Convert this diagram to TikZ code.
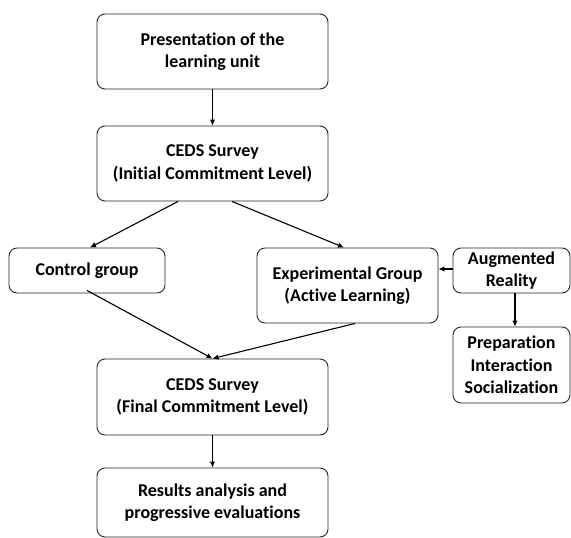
\documentclass[tikz,border=0pt]{standalone}
\usepackage{fontspec}
\setmainfont{Carlito}[Ligatures=NoCommon]
\usetikzlibrary{arrows.meta}

\tikzset{
	stage/.style={draw=black!85, line width=0.9pt, rounded corners=8pt, align=center, inner sep=0pt,
		font=\bfseries\fontsize{18}{22.5}\selectfont},
	flow/.style={line width=1.1pt, -{Latex[length=6pt,width=5.5pt]}}
}

\begin{document}
\begin{tikzpicture}[x=1pt,y=-1pt]
		%%%%% START %%%%%
		\useasboundingbox (0,0) rectangle (571,538);
		
		\node[stage, minimum width=231pt, minimum height=75pt] (pres) at (212.5, 51.5) {Presentation of the\\learning unit};
		\node[stage, minimum width=231pt, minimum height=75pt] (init) at (212.5, 163.5) {CEDS Survey\\(Initial Commitment Level)};
		
		\node[stage, minimum width=156pt, minimum height=45pt] (ctrl) at (87, 270.5) {Control group};
		\node[stage, minimum width=181pt, minimum height=75pt] (exper) at (347.5, 285.5) {Experimental Group\\(Active Learning)};
		\node[stage, minimum width=117pt, minimum height=45pt] (augm) at (511.5, 270.5) {Augmented\\Reality};
		\node[stage, minimum width=117pt, minimum height=76pt] (prep) at (511.5, 365) {Preparation\\Interaction\\Socialization};
		
		\node[stage, minimum width=231pt, minimum height=76pt] (final) at (212.5, 397) {CEDS Survey\\(Final Commitment Level)};
		\node[stage, minimum width=231pt, minimum height=69pt] (result) at (212.5, 502.5) {Results analysis and\\progressive evaluations};
		
		\draw[flow] (pres.south) -- (init.south |- init.north);
		\draw[flow] ([xshift=-34.5pt]init.south) -- ([xshift=3pt]ctrl.north);
		\draw[flow] ([xshift=19.5pt]init.south) -- ([xshift=-3.5pt]exper.north);
		\draw[flow] ([yshift=3pt]ctrl.south) -- (final.north);
		\draw[flow] ([xshift=7.5pt]exper.south) -- (final.north);
		\draw[flow] ([yshift=1.5pt]augm.west) -- ([yshift=1.5pt]augm.west -| exper.east);
		\draw[flow] ([xshift=3.5pt]augm.south) -- ([xshift=3.5pt]prep.north);
		\draw[flow] (final.south) -- (result.north);
		
		%%%%% END %%%%%
	\end{tikzpicture}
\end{document}
